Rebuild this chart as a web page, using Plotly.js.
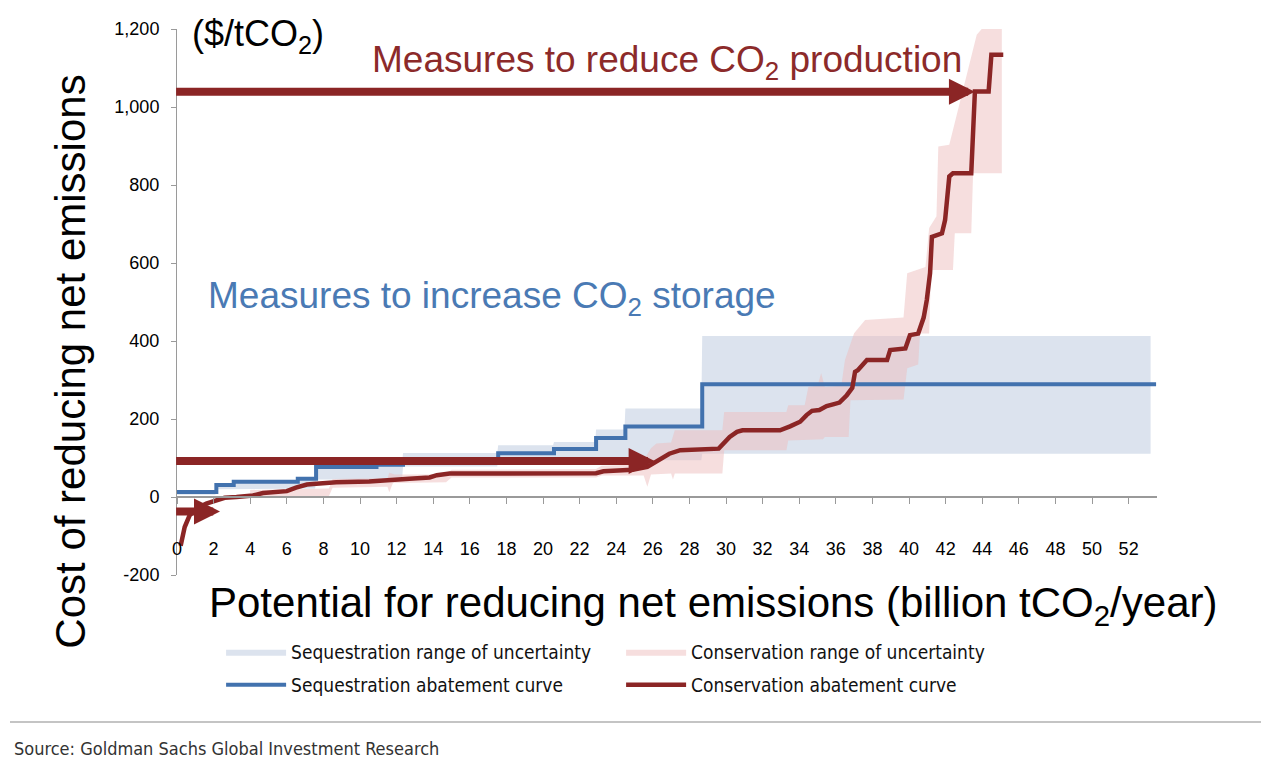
<!DOCTYPE html>
<html><head><meta charset="utf-8">
<script src="https://cdn.plot.ly/plotly-3.0.1.min.js"></script>
<style>html,body{margin:0;padding:0;background:#fff;} #chart{width:1261px;height:768px;}</style>
</head><body><div id="chart"></div>
<script>
// Sequestration abatement curve (step curve)
const seqCurveX = [0, 2.15, 3.1, 6.6, 7.6, 10.9, 12.35, 17.55, 20.6, 22.9, 24.5, 28.7, 53.5];
const seqCurveY = [13, 31, 39, 47, 77, 83, 89, 112, 123, 151, 181, 289, 289];

// Sequestration range of uncertainty (upper / lower edges)
const seqUpperX = [0, 2.1, 2.15, 3.1, 3.15, 6.55, 6.6, 7.55, 7.6, 10.85, 10.9, 12.3, 12.35, 17.5, 17.55, 20.55, 20.6, 22.85, 22.9, 24.45, 24.5, 28.65, 28.7, 53.2];
const seqUpperY = [16, 16, 33, 33, 42, 42, 50, 50, 80, 80, 86, 86, 113, 113, 133, 133, 141, 141, 173, 173, 227, 227, 413, 413];
const seqLowerX = [0, 2.1, 2.15, 7.55, 7.6, 12.3, 12.35, 17.5, 17.55, 22.85, 22.9, 28.65, 28.7, 53.2];
const seqLowerY = [6, 6, 20, 22, 45, 45, 78, 78, 100, 100, 94, 94, 111, 111];

// Conservation abatement curve
const consCurveX = [0.2, 0.42, 0.69, 1.06, 1.6, 2.15, 2.6, 3.25, 4.15, 4.7, 6.0, 6.5, 7.1, 7.6, 8.7, 10.5, 11.45, 12.7, 13.8, 14.2, 14.9, 17.8, 22.9, 23.3, 24.2, 24.9, 25.7, 26.2, 26.9, 27.5, 28.6, 29.6, 30.2, 30.6, 30.9, 32.95, 33.5, 34.05, 34.4, 34.7, 35.1, 35.5, 35.9, 36.2, 36.6, 36.9, 37.05, 37.2, 37.7, 38.8, 38.97, 39.8, 40.05, 40.5, 40.8, 40.97, 41.15, 41.25, 41.8, 41.97, 42.2, 42.4, 43.4, 43.6, 44.35, 44.5, 45.15];
const consCurveY = [-125, -77, -47, -30, -17, -10, -2, 0, 4, 10, 15, 24, 32, 34, 38, 40, 44, 47, 50, 56, 60, 60, 61, 66, 68, 70, 77, 90, 111, 120, 122, 124, 154, 167, 171, 171, 181, 193, 210, 221, 223, 233, 238, 242, 261, 280, 321, 325, 351, 351, 377, 381, 415, 419, 460, 505, 574, 667, 676, 710, 822, 830, 830, 1040, 1040, 1134, 1134];

// Conservation range of uncertainty (upper / lower edges)
const consUpperX = [4, 8.3, 8.5, 11.5, 11.6, 11.9, 14.7, 15.0, 22.9, 23.2, 24.4, 24.6, 25.6, 25.9, 26.2, 27.0, 27.2, 29.8, 29.9, 33.3, 33.4, 34.3, 34.5, 35.0, 35.2, 35.4, 36.3, 36.5, 37.0, 37.6, 39.7, 39.9, 40.9, 41.1, 41.5, 41.6, 42.2, 43.7, 44.1, 45.07];
const consUpperY = [18, 22, 46, 48, 62, 58, 58, 70, 72, 80, 82, 100, 102, 125, 137, 140, 171, 171, 218, 218, 235, 235, 282, 285, 317, 282, 285, 351, 420, 454, 460, 574, 590, 690, 720, 899, 903, 1185, 1207, 1207];
const consLowerX = [4, 8.3, 8.5, 11.5, 11.6, 11.8, 14.7, 15.0, 22.9, 23.2, 25.5, 25.7, 25.9, 27.0, 27.1, 27.2, 29.8, 29.9, 33.3, 33.4, 35.3, 35.4, 36.7, 36.8, 39.7, 39.9, 40.5, 40.6, 41.1, 41.2, 42.4, 42.5, 43.4, 43.5, 45.07];
const consLowerY = [0, 2, 24, 26, 12, 36, 38, 50, 50, 55, 55, 26, 58, 60, 45, 60, 60, 120, 120, 145, 148, 154, 154, 248, 250, 330, 340, 419, 419, 582, 582, 676, 676, 830, 830];

// Axis ticks
const xTickVals = [0, 2, 4, 6, 8, 10, 12, 14, 16, 18, 20, 22, 24, 26, 28, 30, 32, 34, 36, 38, 40, 42, 44, 46, 48, 50, 52];
const yTickVals = [-200, 0, 200, 400, 600, 800, 1000, 1200];
const yTickText = ['-200', '0', '200', '400', '600', '800', '1,000', '1,200'];

// Series names
const seriesNames = ['Sequestration range of uncertainty', 'Conservation range of uncertainty', 'Sequestration abatement curve', 'Conservation abatement curve'];

function band(ux, uy, lx, ly) {
  return { x: ux.concat(lx.slice().reverse()), y: uy.concat(ly.slice().reverse()) };
}
const seqBand = band(seqUpperX, seqUpperY, seqLowerX, seqLowerY);
const consBand = band(consUpperX, consUpperY, consLowerX, consLowerY);

const RED = '#8B2525';
const BLUE = '#4272AE';
const FONT = 'Liberation Sans, Arial, sans-serif';
const NARROW = 'Liberation Sans Narrow, Arial Narrow, DejaVu Sans Condensed, sans-serif';

const traces = [
  { x: seqBand.x, y: seqBand.y, type: 'scatter', mode: 'lines', fill: 'toself', legend: 'legend',
    fillcolor: '#DCE3EE', line: { width: 0, color: '#DCE3EE' }, name: seriesNames[0], hoverinfo: 'skip' },
  { x: consBand.x, y: consBand.y, type: 'scatter', mode: 'lines', fill: 'toself', legend: 'legend',
    fillcolor: 'rgba(237,189,189,0.5)', line: { width: 0, color: 'rgba(237,189,189,0.5)' }, name: seriesNames[1], hoverinfo: 'skip' },
  { x: seqCurveX, y: seqCurveY, type: 'scatter', mode: 'lines', legend: 'legend2',
    line: { color: BLUE, width: 4, shape: 'hv' }, name: seriesNames[2] },
  { x: consCurveX, y: consCurveY, type: 'scatter', mode: 'lines', legend: 'legend2',
    line: { color: RED, width: 4.5 }, name: seriesNames[3] }
];

function arrow(xTail, xHead, yv) {
  return { x: xHead, y: yv, ax: xTail, ay: yv, xref: 'x', yref: 'y', axref: 'x', ayref: 'y',
    text: '', showarrow: true, arrowhead: 2, arrowsize: 0.65, arrowwidth: 8, arrowcolor: RED };
}

function legendBox(yPaper) {
  return {
    orientation: 'h', x: 0.045, y: yPaper, xanchor: 'left', yanchor: 'middle',
    entrywidth: 325, itemwidth: 60, traceorder: 'normal',
    font: { family: NARROW, size: 19, color: '#111' }
  };
}

const layout = {
  width: 1261, height: 768,
  margin: { l: 177, r: 104, t: 29, b: 193 },
  paper_bgcolor: '#ffffff', plot_bgcolor: '#ffffff',
  font: { family: FONT, color: '#000' },
  showlegend: true,
  legend: legendBox(-0.141),
  legend2: legendBox(-0.2015),
  xaxis: {
    range: [0, 53.55], anchor: 'free', position: 200 / 1400,
    showgrid: false, zeroline: false, showline: true, linecolor: '#9a9a9a', linewidth: 2,
    ticks: 'outside', ticklen: 6, tickwidth: 1, tickcolor: '#9a9a9a',
    tickmode: 'array', tickvals: xTickVals, ticklabelstandoff: 29,
    tickfont: { family: FONT, size: 18, color: '#000' }
  },
  yaxis: {
    range: [-200, 1200], showgrid: false, zeroline: false, showline: true,
    linecolor: '#9a9a9a', linewidth: 1, ticks: 'outside', ticklen: 5, tickcolor: '#9a9a9a',
    tickmode: 'array', tickvals: yTickVals, ticktext: yTickText, ticklabelstandoff: 8,
    tickfont: { family: FONT, size: 18, color: '#000' }
  },
  annotations: [
    arrow(-0.13, 43.6, 1039),
    arrow(-0.13, 26.1, 92),
    arrow(-0.13, 2.35, -37),
    { text: '($/tCO<sub>2</sub>)', xref: 'paper', yref: 'paper', x: 0.013, y: 0.988, xanchor: 'left', yanchor: 'middle',
      showarrow: false, font: { family: FONT, size: 36, color: '#000' } },
    { text: 'Measures to reduce CO<sub>2</sub> production', xref: 'paper', yref: 'paper', x: 0.197, y: 0.94, xanchor: 'left', yanchor: 'middle',
      showarrow: false, font: { family: FONT, size: 37, color: '#8C2A2A' } },
    { text: 'Measures to increase CO<sub>2</sub> storage', xref: 'paper', yref: 'paper', x: 0.03, y: 0.507, xanchor: 'left', yanchor: 'middle',
      showarrow: false, font: { family: FONT, size: 37, color: '#4A7AB4' } },
    { text: 'Cost of reducing net emissions', xref: 'paper', yref: 'paper', x: -0.1096, y: 0.39, xanchor: 'center', yanchor: 'middle',
      textangle: -90, showarrow: false, font: { family: FONT, size: 42, color: '#000' } },
    { text: 'Potential for reducing net emissions (billion tCO<sub>2</sub>/year)', xref: 'paper', yref: 'paper', x: 0.5465, y: -0.055,
      xanchor: 'center', yanchor: 'middle', showarrow: false, font: { family: FONT, size: 42, color: '#000' } },
    { text: 'Source: Goldman Sachs Global Investment Research', xref: 'paper', yref: 'paper',
      x: (12 - 177) / 980, y: (546 - (748 - 29)) / 546, xanchor: 'left', yanchor: 'middle', showarrow: false,
      font: { family: NARROW, size: 18, color: '#333' } }
  ],
  shapes: [
    { type: 'line', xref: 'paper', yref: 'paper', x0: (10 - 177) / 980, x1: (1261 - 177) / 980,
      y0: (546 - (722 - 29)) / 546, y1: (546 - (722 - 29)) / 546, line: { color: '#b0b0b0', width: 1.5 } }
  ]
};

Plotly.newPlot('chart', traces, layout, { displayModeBar: false, staticPlot: true });
</script>
</body></html>
